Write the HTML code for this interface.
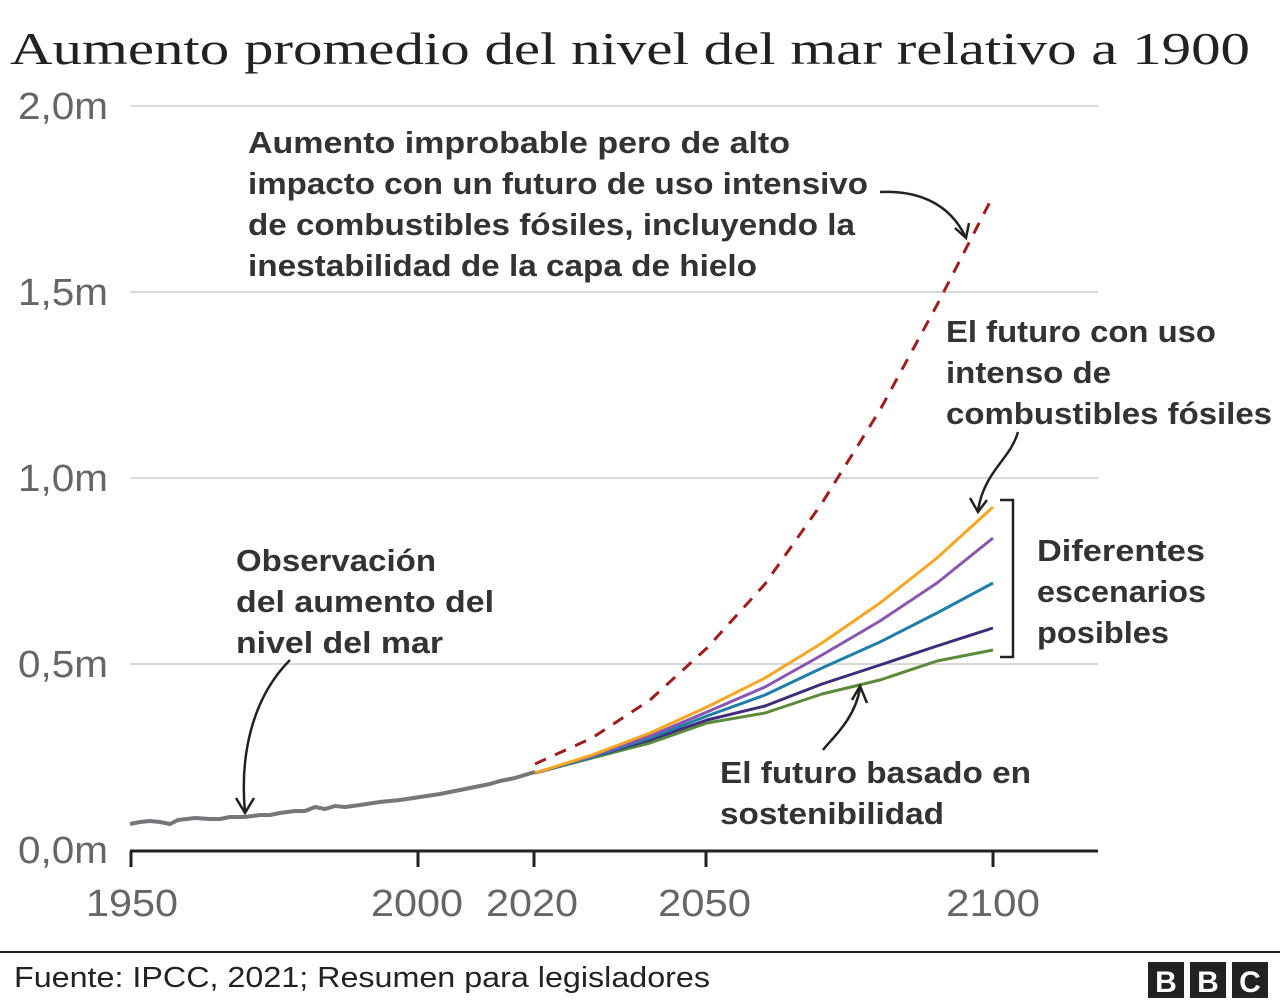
<!DOCTYPE html>
<html><head><meta charset="utf-8"><style>
html,body{margin:0;padding:0;background:#fff;}
svg{display:block;}
</style></head><body>
<svg width="1280" height="1000" viewBox="0 0 1280 1000" xmlns="http://www.w3.org/2000/svg">
<text x="10" y="64" font-family="Liberation Serif, serif" font-size="46" fill="#222" textLength="1240" lengthAdjust="spacingAndGlyphs">Aumento promedio del nivel del mar relativo a 1900</text>
<g stroke="#d9d9d9" stroke-width="2">
<line x1="130" y1="106" x2="1098" y2="106"/>
<line x1="130" y1="292" x2="1098" y2="292"/>
<line x1="130" y1="478" x2="1098" y2="478"/>
<line x1="130" y1="664" x2="1098" y2="664"/>
</g>
<g font-family="Liberation Sans, sans-serif" font-size="38" fill="#666">
<text x="18" y="119" textLength="90" lengthAdjust="spacingAndGlyphs">2,0m</text>
<text x="18" y="305" textLength="90" lengthAdjust="spacingAndGlyphs">1,5m</text>
<text x="18" y="491" textLength="90" lengthAdjust="spacingAndGlyphs">1,0m</text>
<text x="18" y="677" textLength="90" lengthAdjust="spacingAndGlyphs">0,5m</text>
<text x="18" y="863" textLength="90" lengthAdjust="spacingAndGlyphs">0,0m</text>
<text x="86" y="916" textLength="92" lengthAdjust="spacingAndGlyphs">1950</text>
<text x="371" y="916" textLength="92" lengthAdjust="spacingAndGlyphs">2000</text>
<text x="486" y="916" textLength="92" lengthAdjust="spacingAndGlyphs">2020</text>
<text x="658" y="916" textLength="93" lengthAdjust="spacingAndGlyphs">2050</text>
<text x="946" y="916" textLength="94" lengthAdjust="spacingAndGlyphs">2100</text>
</g>
<g stroke="#222" stroke-width="3">
<line x1="130" y1="851" x2="1098" y2="851"/>
<line x1="131" y1="851" x2="131" y2="867"/>
<line x1="418" y1="851" x2="418" y2="867"/>
<line x1="534" y1="851" x2="534" y2="867"/>
<line x1="706" y1="851" x2="706" y2="867"/>
<line x1="993" y1="851" x2="993" y2="867"/>
</g>
<g fill="none" stroke-width="3" stroke-linejoin="round">
<polyline stroke="#a01d1d" stroke-dasharray="12,10" points="535,764 592,738 650,700 707,648 765,584 822,503 880,410 937,305 993,196"/>
<polyline stroke="#5a8a3a" points="535,773 592,758 650,743 707,723 765,713 822,694 880,680 937,661 993,650"/>
<polyline stroke="#3f2d7a" points="535,773 592,757 650,740 707,720 765,706 822,684 880,665 937,646 993,628"/>
<polyline stroke="#1f7fa8" points="535,773 592,757 650,738 707,716 765,695 822,668 880,642 937,613 993,583"/>
<polyline stroke="#8a55b0" points="535,773 592,756 650,736 707,712 765,687 822,655 880,621 937,583 993,538"/>
<polyline stroke="#f5a623" points="535,773 592,755 650,733 707,707 765,678 822,643 880,603 937,558 993,507"/>
<polyline stroke="#77767b" stroke-width="4" points="130,824 140,822 150,821 160,822 170,824 178,820 195,818 210,819 220,819 230,817 245,817 260,815 270,815 280,813 295,811 305,811 315,807 325,809 335,806 345,807 360,805 380,802 400,800 420,797 440,794 460,790 480,786 490,784 500,781 515,778 528,774 535,772"/>
</g>
<g fill="none" stroke="#222" stroke-width="2.5">
<path d="M880,192 C920,190 950,205 965,236"/>
<path d="M955,228 L966,238 L969,223"/>
<path d="M1018,432 C1010,460 985,470 978,510"/>
<path d="M970,498 L978,512 L987,500"/>
<path d="M290,660 C250,700 240,760 245,812"/>
<path d="M236,798 L245,813 L254,798"/>
<path d="M823,750 C830,740 855,720 860,688"/>
<path d="M852,700 L860,686 L867,703"/>
<path d="M1000,500 L1013,500 L1013,657 L1000,657"/>
</g>
<g font-family="Liberation Sans, sans-serif" font-size="31" font-weight="bold" fill="#333">
<text x="248" y="153" textLength="542" lengthAdjust="spacingAndGlyphs">Aumento improbable pero de alto</text>
<text x="248" y="194" textLength="620" lengthAdjust="spacingAndGlyphs">impacto con un futuro de uso intensivo</text>
<text x="248" y="235" textLength="607" lengthAdjust="spacingAndGlyphs">de combustibles fósiles, incluyendo la</text>
<text x="248" y="276" textLength="509" lengthAdjust="spacingAndGlyphs">inestabilidad de la capa de hielo</text>
<text x="946" y="342" textLength="270" lengthAdjust="spacingAndGlyphs">El futuro con uso</text>
<text x="946" y="383" textLength="165" lengthAdjust="spacingAndGlyphs">intenso de</text>
<text x="946" y="424" textLength="326" lengthAdjust="spacingAndGlyphs">combustibles fósiles</text>
<text x="1037" y="561" textLength="168" lengthAdjust="spacingAndGlyphs">Diferentes</text>
<text x="1037" y="602" textLength="169" lengthAdjust="spacingAndGlyphs">escenarios</text>
<text x="1037" y="643" textLength="132" lengthAdjust="spacingAndGlyphs">posibles</text>
<text x="236" y="571" textLength="200" lengthAdjust="spacingAndGlyphs">Observación</text>
<text x="236" y="612" textLength="258" lengthAdjust="spacingAndGlyphs">del aumento del</text>
<text x="236" y="653" textLength="207" lengthAdjust="spacingAndGlyphs">nivel del mar</text>
<text x="720" y="783" textLength="311" lengthAdjust="spacingAndGlyphs">El futuro basado en</text>
<text x="720" y="824" textLength="224" lengthAdjust="spacingAndGlyphs">sostenibilidad</text>
</g>
<line x1="0" y1="952" x2="1280" y2="952" stroke="#222" stroke-width="2"/>
<text x="14" y="987" font-family="Liberation Sans, sans-serif" font-size="29" fill="#222" textLength="696" lengthAdjust="spacingAndGlyphs">Fuente: IPCC, 2021; Resumen para legisladores</text>
<g font-family="Liberation Sans, sans-serif" font-size="30" font-weight="bold" fill="#fff" text-anchor="middle">
<rect x="1148" y="962" width="36" height="36" fill="#222"/><text x="1166" y="992">B</text>
<rect x="1190" y="962" width="36" height="36" fill="#222"/><text x="1208" y="992">B</text>
<rect x="1232" y="962" width="36" height="36" fill="#222"/><text x="1250" y="992">C</text>
</g>
</svg>
</body></html>
